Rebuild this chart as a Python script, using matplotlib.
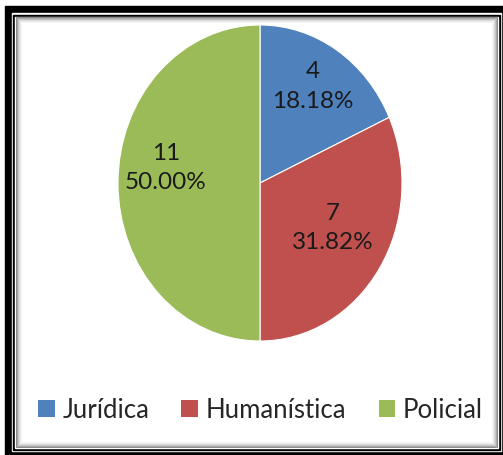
import matplotlib
matplotlib.use('Agg')
import matplotlib.pyplot as plt
from matplotlib.patches import Rectangle, Patch

plt.rcParams['font.family'] = ['Lato', 'DejaVu Sans']

# data
categories = ['Jurídica', 'Humanística', 'Policial']
counts = [4, 7, 11]
colors = ['#4F81BD', '#C0504D', '#9BBB59']

# where each slice label sits (axes units)
label_pos = [(0.373, 0.61), (0.514, -0.285), (-0.662, 0.095)]

W, H = 503, 455
fig = plt.figure(figsize=(W / 100, H / 100), dpi=100)

# double black frame with soft inner shadow
bg = fig.add_axes([0, 0, 1, 1])
bg.set_xlim(0, W)
bg.set_ylim(H, 0)
bg.axis('off')
bg.add_patch(Rectangle((5, 6), 600, 600, color='black'))
bg.add_patch(Rectangle((12, 13), 489, 438, color='white'))
bg.add_patch(Rectangle((13.5, 14.5), 486.5, 435, color='black'))
bg.add_patch(Rectangle((15.5, 16.5), 482.5, 431, color='white'))
for i in range(7):
    bg.add_patch(Rectangle((15.5 + i + 0.5, 16.5 + i + 0.5), 482.5 - 2 * i - 1, 431 - 2 * i - 1,
                           fill=False, edgecolor='black', lw=0.72,
                           alpha=0.45 * (1 - i / 7) ** 2))

ax = fig.add_axes([118 / W, (H - 341) / H, 284 / W, 316 / H])
total = sum(counts)
wedges, _ = ax.pie(counts, colors=colors, startangle=90, counterclock=False, radius=1,
                   wedgeprops=dict(linewidth=0.8, edgecolor='white'))
ax.set_aspect('auto')
ax.set_xlim(-1, 1)
ax.set_ylim(-1, 1)
ax.axis('off')

for v, (x, y) in zip(counts, label_pos):
    ax.text(x, y, f'{v}\n{v / total * 100:.2f}%', ha='center', va='center',
            fontsize=17.5, color='#1a1a1a', linespacing=1.5)

handles = [Patch(facecolor=c, edgecolor='none') for c in colors]
fig.legend(handles, categories, loc='center', bbox_to_anchor=(260.5 / W, 1 - 410 / H),
           ncol=3, frameon=False, fontsize=18.5, handlelength=0.65, handleheight=0.65,
           handletextpad=0.3, columnspacing=1.25, labelcolor='#262626')

fig.savefig('out.png', dpi=100)
